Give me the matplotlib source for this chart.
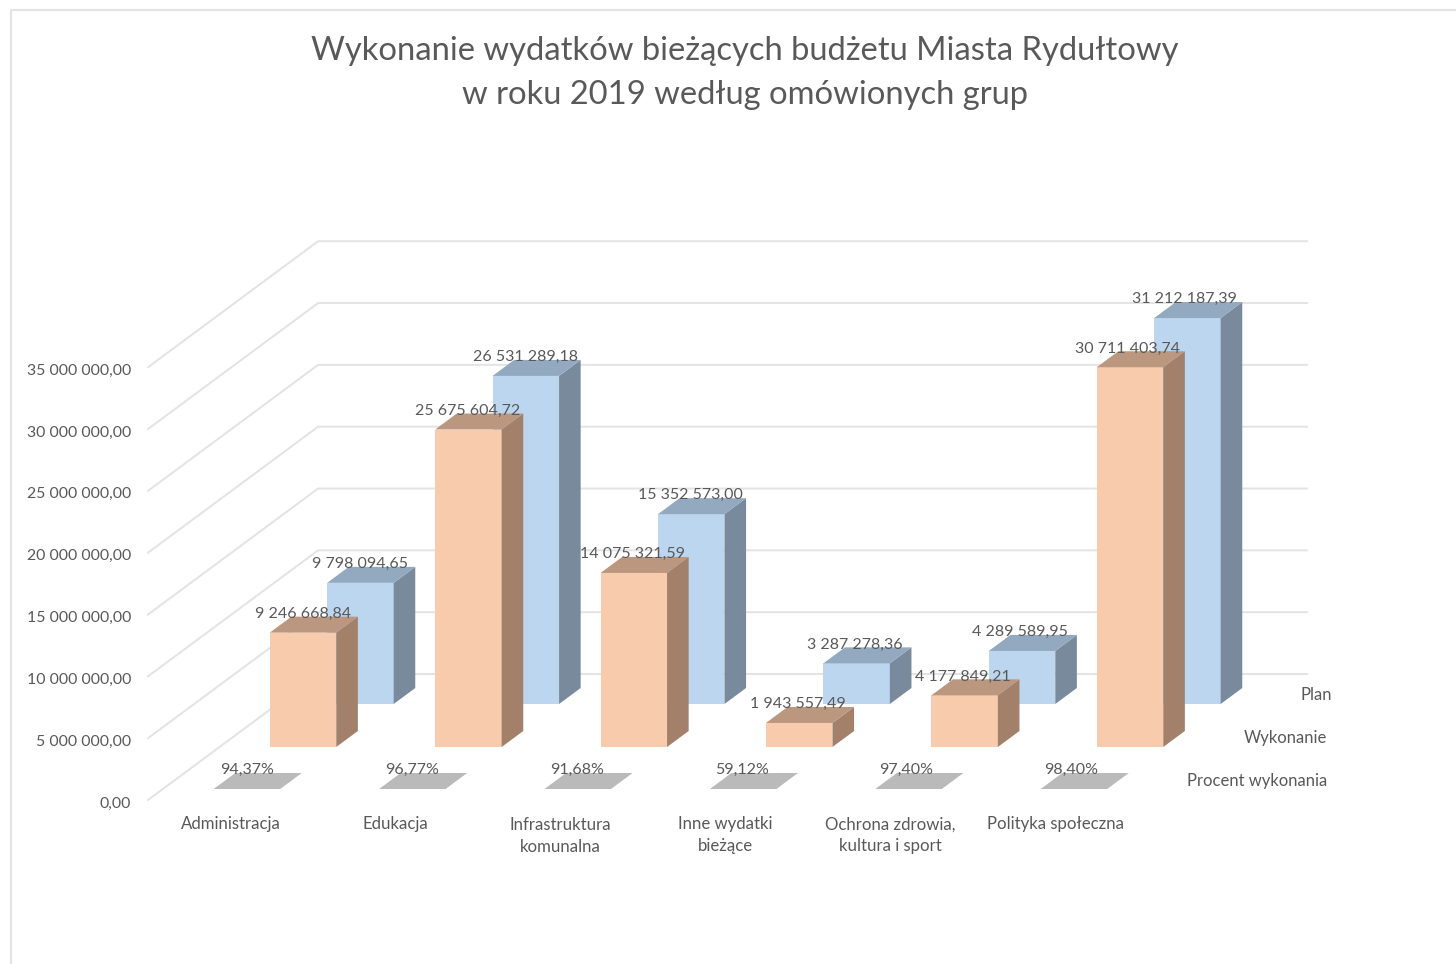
import matplotlib
matplotlib.use("Agg")
import matplotlib.pyplot as plt
from matplotlib.patches import Polygon

plt.rcParams["font.family"] = ["Lato", "DejaVu Sans"]

# -------------------------
# Data
# -------------------------
categories = ["Administracja", "Edukacja", "Infrastruktura\nkomunalna",
              "Inne wydatki\nbieżące", "Ochrona zdrowia,\nkultura i sport", "Polityka społeczna"]
series_names = ["Plan", "Wykonanie", "Procent wykonania"]
plan = [9798094.65, 26531289.18, 15352573.00, 3287278.36, 4289589.95, 31212187.39]
wykonanie = [9246668.84, 25675604.72, 14075321.59, 1943557.49, 4177849.21, 30711403.74]
procent = [94.37, 96.77, 91.68, 59.12, 97.40, 98.40]
ticks = [0, 5e6, 10e6, 15e6, 20e6, 25e6, 30e6, 35e6]

TEXT = "#595959"
GRID = "#E3E3E3"


def money(v):
    s = f"{v:,.2f}"
    return s.replace(",", " ").replace(".", ",")


# -------------------------
# Oblique projection of the Excel 3D chart, in output pixels
# -------------------------
X0, Y0 = 199.0, 800.0      # front of the floor, first category
CAT_STEP = 165.4
PX_PER_UNIT = 12.365e-6
DX_PER_DY = 1.335
WALL_DX_PER_DY = 1.35
BAR_W = 66.5
BAR_DEPTH = 16.0
SERIES_DY = {"Plan": 96.0, "Wykonanie": 53.0, "Procent wykonania": 11.0}


def project(cat, depth, value):
    x = X0 + cat * CAT_STEP + depth * DX_PER_DY
    y = Y0 - depth - value * PX_PER_UNIT
    return x, y


def wall_point(depth, value):
    return 148 + depth * WALL_DX_PER_DY, Y0 - depth - value * PX_PER_UNIT


def draw_bar(ax, i, name, value, front, side, top, z):
    d = SERIES_DY[name]
    x, y0 = project(i, d, 0)
    _, y1 = project(i, d, value)
    dx, dy = BAR_DEPTH * WALL_DX_PER_DY, BAR_DEPTH
    xr = x + BAR_W
    ax.add_patch(Polygon([(x, y0), (xr, y0), (xr, y1), (x, y1)], fc=front, ec="none", zorder=z))
    ax.add_patch(Polygon([(xr, y0), (xr + dx, y0 - dy), (xr + dx, y1 - dy), (xr, y1)], fc=side, ec="none", zorder=z))
    ax.add_patch(Polygon([(x, y1), (xr, y1), (xr + dx, y1 - dy), (x + dx, y1 - dy)], fc=top, ec="none", zorder=z))
    # data label sits a bit closer in than the bars as the categories go right
    return x + BAR_W / 2 - i * 0.5, y1


fig = plt.figure(figsize=(14.56, 9.64), dpi=100)
ax = fig.add_axes([0, 0, 1, 1])
ax.set_xlim(0, 1456)
ax.set_ylim(964, 0)
ax.axis("off")

# chart frame
ax.plot([11, 11, 1456], [964, 10, 10], color="#E4E4E4", lw=1.6, zorder=1)

# title
ax.text(745, 50.5, "Wykonanie wydatków bieżących budżetu Miasta Rydułtowy",
        ha="center", va="center", fontsize=23.6, color=TEXT)
ax.text(745, 94.5, "w roku 2019 według omówionych grup",
        ha="center", va="center", fontsize=23.6, color=TEXT)

# walls and gridlines
BACK = 126
for t in ticks:
    xa, ya = wall_point(0, t)
    xb, yb = wall_point(BACK, t)
    ax.plot([xa, xb, 1307], [ya, yb, yb], color=GRID, lw=1.4, zorder=2)
    ax.text(131, ya + 3.5, money(t), ha="right", va="center", fontsize=11.4, color=TEXT, zorder=6)

# bars, back row first
labels = []
for i, v in enumerate(plan):
    labels.append((draw_bar(ax, i, "Plan", v, "#BBD6EE", "#788A9B", "#93A9C0", 3), money(v)))
for i, v in enumerate(wykonanie):
    labels.append((draw_bar(ax, i, "Wykonanie", v, "#F7CBAC", "#A28069", "#BC9780", 4), money(v)))
for i, v in enumerate(procent):
    pct = f"{v:.2f}%".replace(".", ",")
    labels.append((draw_bar(ax, i, "Procent wykonania", v, "#BABABA", "#BABABA", "#BABABA", 4), pct))

for (x, y), s in labels:
    ax.text(x, y - 18.8, s, ha="center", va="center", fontsize=11.5, color=TEXT, zorder=7)

# category labels
for i, c in enumerate(categories):
    lines = c.split("\n")
    for k, line in enumerate(lines):
        ax.text(230.5 + i * 165, 824.5 + k * 22, line, ha="center", va="center",
                fontsize=12.1, color=TEXT, zorder=6)

# series labels on the depth axis
for name, (x, y) in zip(series_names, [(1316, 695), (1285, 738), (1257, 781)]):
    ax.text(x, y, name, ha="center", va="center", fontsize=12, color=TEXT, zorder=6)

fig.savefig("out.png", dpi=100)
